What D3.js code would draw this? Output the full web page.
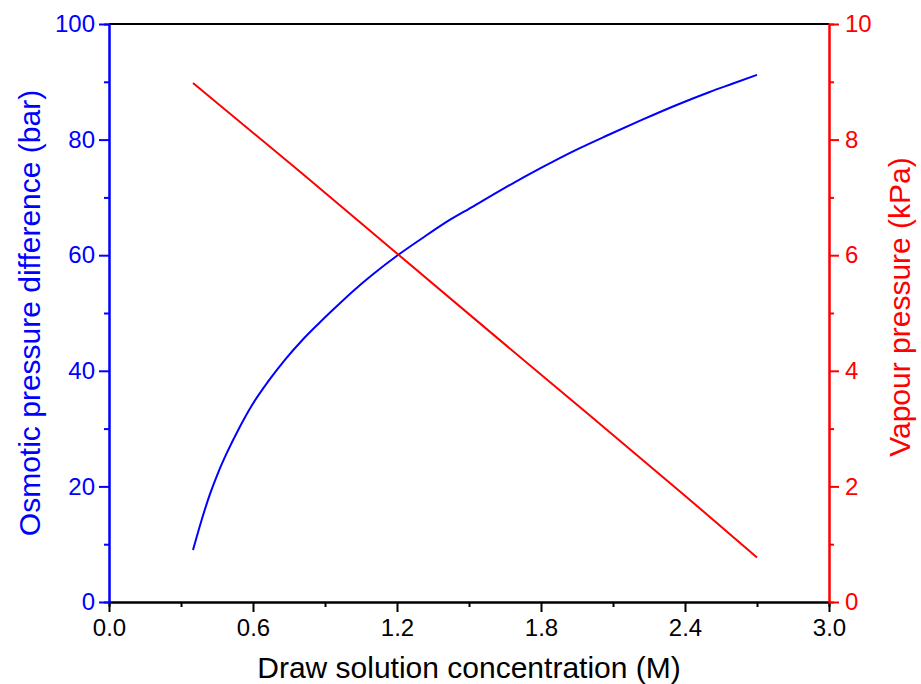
<!DOCTYPE html>
<html>
<head>
<meta charset="utf-8">
<script src="https://cdn.jsdelivr.net/npm/d3@7"></script>
<style>
  body { margin: 0; background: #fff; }
  text { font-family: Arial, "Liberation Sans", sans-serif; }
</style>
</head>
<body>
<svg id="chart" width="921" height="684"></svg>
<script>
// draw solution concentration (M) vs osmotic pressure difference (bar)
const concBlue = [0.35, 0.386, 0.421, 0.455, 0.49, 0.54, 0.595, 0.664, 0.733, 0.803, 0.872, 0.942,
  1.02, 1.1, 1.2, 1.3, 1.4, 1.52, 1.66, 1.8, 1.94, 2.08, 2.22, 2.36, 2.5, 2.6, 2.7];
const osmotic = [9.0, 14.2, 18.7, 22.4, 25.7, 29.9, 34.0, 38.2, 41.9, 45.2, 48.1, 50.9,
  53.9, 56.7, 59.9, 62.8, 65.6, 68.5, 71.9, 75.1, 78.1, 80.8, 83.4, 85.9, 88.2, 89.7, 91.2];

// draw solution concentration (M) vs vapour pressure (kPa)
const concRed = [0.35, 0.8, 1.2, 1.6, 2.0, 2.4, 2.7];
const vapour = [8.98, 7.43, 6.03, 4.63, 3.24, 1.84, 0.77];

const xTicks = [0, 0.6, 1.2, 1.8, 2.4, 3.0];
const xMinor = [0.3, 0.9, 1.5, 2.1, 2.7];
const leftTicks = [0, 20, 40, 60, 80, 100];
const leftMinor = [10, 30, 50, 70, 90];
const rightTicks = [0, 2, 4, 6, 8, 10];
const rightMinor = [1, 3, 5, 7, 9];

const BLUE = "#0000ff", RED = "#ff0000";
const margin = {top: 24, right: 92, bottom: 82, left: 109};
const width = 921 - margin.left - margin.right;
const height = 684 - margin.top - margin.bottom;

const svg = d3.select("#chart");
const g = svg.append("g").attr("transform", `translate(${margin.left},${margin.top})`);

const x = d3.scaleLinear().domain([0, 3]).range([0, width]);
const yL = d3.scaleLinear().domain([0, 100]).range([height, 0]);
const yR = d3.scaleLinear().domain([0, 10]).range([height, 0]);

function styleAxis(sel, color) {
  sel.select(".domain").attr("stroke", color).attr("stroke-width", 2);
  sel.selectAll(".tick line").attr("stroke", color).attr("stroke-width", 2);
  sel.selectAll(".tick text").attr("fill", color).style("font-size", "24px");
}

// top frame line
g.append("line")
  .attr("x1", 0).attr("x2", width)
  .attr("y1", 0).attr("y2", 0)
  .attr("stroke", "#000").attr("stroke-width", 2);

// bottom axis
g.append("g").attr("transform", `translate(0,${height})`)
  .call(d3.axisBottom(x).tickValues(xMinor).tickSize(5).tickFormat(""))
  .call(s => styleAxis(s, "#000"));
g.append("g").attr("transform", `translate(0,${height})`)
  .call(d3.axisBottom(x).tickValues(xTicks).tickSize(10).tickSizeOuter(0)
    .tickPadding(7).tickFormat(d3.format(".1f")))
  .call(s => styleAxis(s, "#000"));

// left axis
g.append("g")
  .call(d3.axisLeft(yL).tickValues(leftMinor).tickSize(5).tickFormat(""))
  .call(s => styleAxis(s, BLUE));
g.append("g")
  .call(d3.axisLeft(yL).tickValues(leftTicks).tickSize(10).tickSizeOuter(0).tickPadding(4))
  .call(s => styleAxis(s, BLUE));

// right axis
g.append("g").attr("transform", `translate(${width},0)`)
  .call(d3.axisRight(yR).tickValues(rightMinor).tickSize(5).tickFormat(""))
  .call(s => styleAxis(s, RED));
g.append("g").attr("transform", `translate(${width},0)`)
  .call(d3.axisRight(yR).tickValues(rightTicks).tickSize(10).tickSizeOuter(0).tickPadding(6))
  .call(s => styleAxis(s, RED));

// curves
const lineL = d3.line().x(d => x(d[0])).y(d => yL(d[1])).curve(d3.curveMonotoneX);
const lineR = d3.line().x(d => x(d[0])).y(d => yR(d[1]));

g.append("path")
  .datum(d3.zip(concBlue, osmotic))
  .attr("d", lineL)
  .attr("fill", "none").attr("stroke", BLUE).attr("stroke-width", 2);

g.append("path")
  .datum(d3.zip(concRed, vapour))
  .attr("d", lineR)
  .attr("fill", "none").attr("stroke", RED).attr("stroke-width", 2);

// axis titles
svg.append("text")
  .attr("x", margin.left + width / 2).attr("y", 678)
  .attr("text-anchor", "middle")
  .style("font-size", "30px").attr("fill", "#000")
  .text("Draw solution concentration (M)");

svg.append("text")
  .attr("transform", `translate(40,${margin.top + height / 2}) rotate(-90)`)
  .attr("text-anchor", "middle")
  .style("font-size", "30px").attr("fill", BLUE)
  .text("Osmotic pressure difference (bar)");

svg.append("text")
  .attr("transform", `translate(910,${margin.top + height / 2 - 6}) rotate(-90)`)
  .attr("text-anchor", "middle")
  .style("font-size", "30px").attr("fill", RED)
  .text("Vapour pressure (kPa)");
</script>
</body>
</html>
